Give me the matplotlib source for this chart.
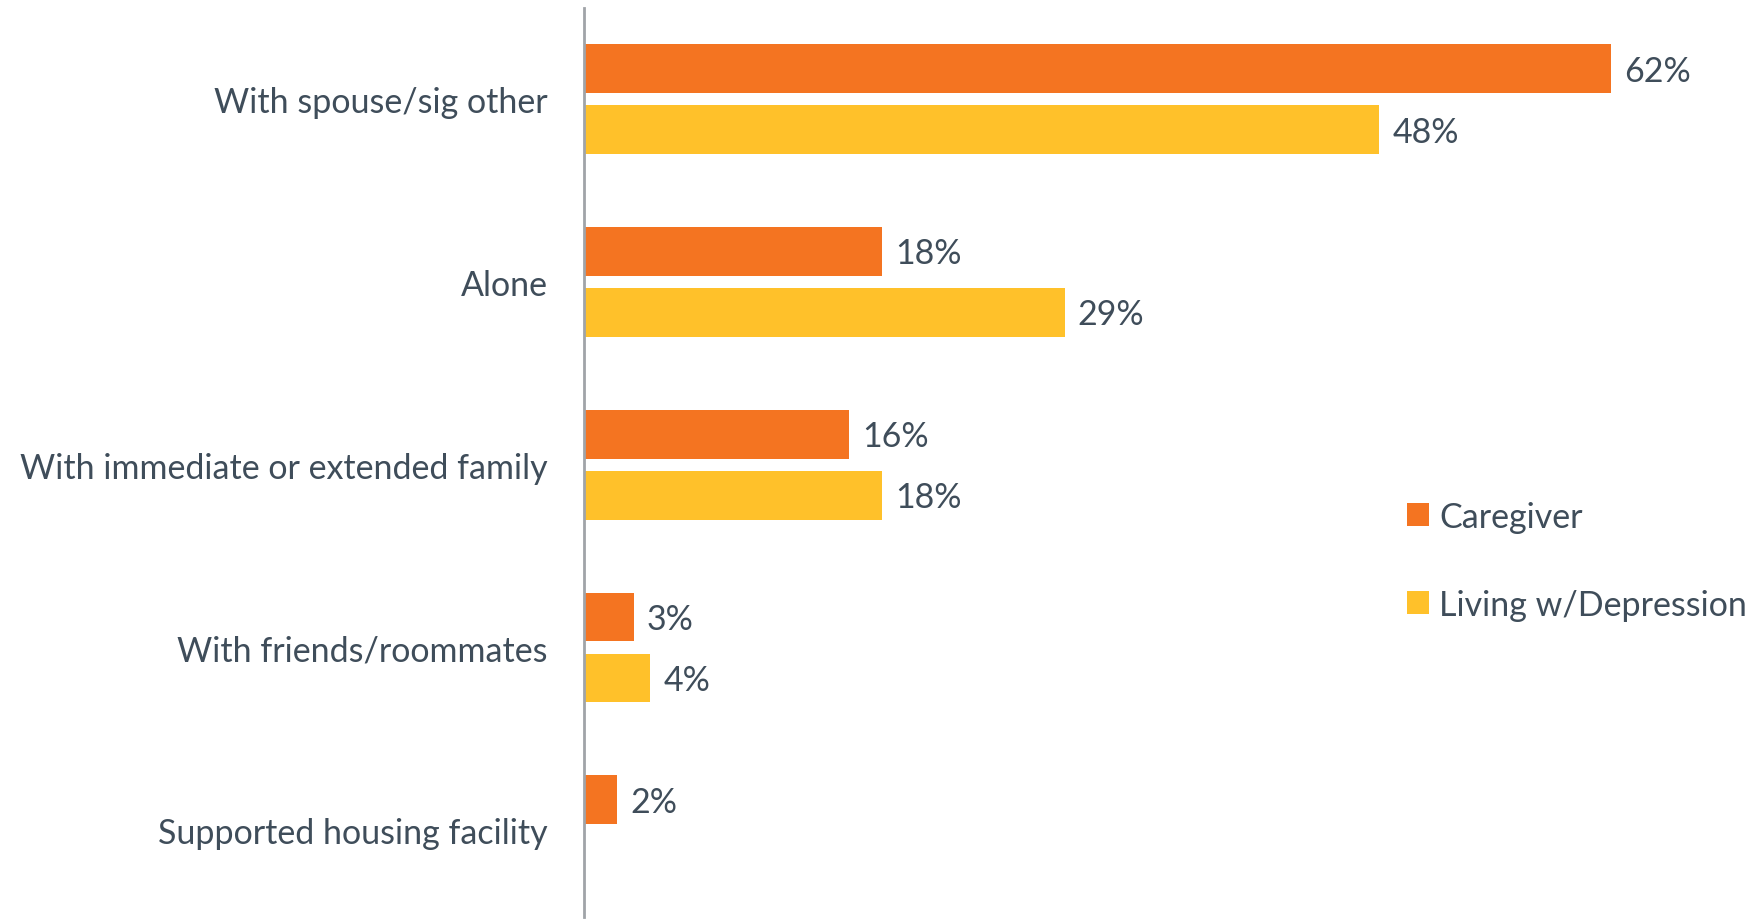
import numpy as np
import matplotlib.pyplot as plt

categories = ['With spouse/sig other', 'Alone', 'With immediate or extended family',
              'With friends/roommates', 'Supported housing facility']
caregiver = [62, 18, 16, 3, 2]
living_dep = [48, 29, 18, 4, np.nan]

orange = '#F47421'
yellow = '#FFC12A'
text_col = '#3F4D5A'

plt.rcParams['font.family'] = ['Lato', 'DejaVu Sans']

fig = plt.figure(figsize=(17.61, 9.2), dpi=100)
ax = fig.add_axes([584 / 1761, 2 / 920, 1 - 584 / 1761, 909 / 920])

y = np.arange(len(categories))
h = 0.268
off = 0.167

b1 = ax.barh(y - off, caregiver, height=h, color=orange, label='Caregiver')
b2 = ax.barh(y + off, living_dep, height=h, color=yellow, label='Living w/Depression')

for bars, vals in [(b1, caregiver), (b2, living_dep)]:
    for bar, v in zip(bars, vals):
        if np.isnan(v):
            continue
        ax.text(v + 0.8, bar.get_y() + bar.get_height() / 2 + 0.01, f'{v:.0f}%',
                va='center', ha='left', fontsize=24.5, color=text_col)

ax.set_xlim(0, 1177 / 16.57)
ax.set_ylim(4.475, -0.5)
ax.set_yticks(y)
ax.set_yticklabels(categories, fontsize=24.5, color=text_col)
ax.tick_params(axis='y', length=0, pad=26)
ax.set_xticks([])
for s in ['top', 'right', 'bottom']:
    ax.spines[s].set_visible(False)
ax.spines['left'].set_color('#A0A4A8')
ax.spines['left'].set_linewidth(2)

leg = ax.legend(loc='upper left', bbox_to_anchor=(1393 / 1761, 1 - 488 / 920),
                bbox_transform=fig.transFigure, frameon=False, fontsize=24.5,
                handlelength=0.65, handleheight=0.65, handletextpad=0.3,
                labelspacing=1.65, borderaxespad=0)
for t in leg.get_texts():
    t.set_color(text_col)

fig.savefig('out.png', dpi=100)
